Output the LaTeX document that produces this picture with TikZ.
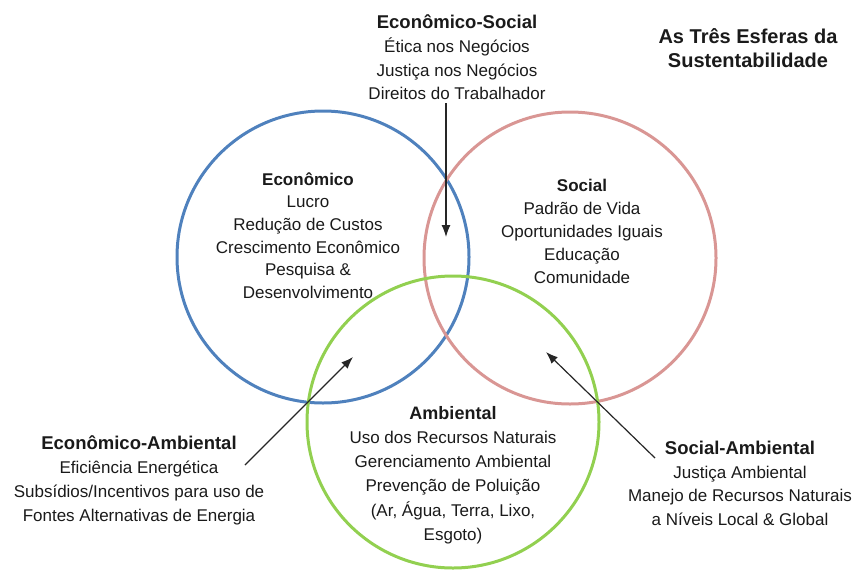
\documentclass[tikz,border=0pt]{standalone}
\usepackage{fontspec}
\setmainfont{Liberation Sans}
\usetikzlibrary{arrows.meta}
\definecolor{econblue}{HTML}{4F81BD}
\definecolor{socred}{HTML}{D99694}
\definecolor{envgreen}{HTML}{92D050}
\definecolor{inktext}{HTML}{1A1A1A}

\begin{document}
\begin{tikzpicture}[x=1pt,y=-1pt,
  sphere/.style={line width=3pt},
  txt/.style={align=center, inner sep=0pt, text=inktext,
              font=\fontsize{17}{23.5}\selectfont},
  pointer/.style={line width=1.2pt, draw=black!85,
                  -{Latex[length=12pt,width=9pt]}}]
\useasboundingbox (0,0) rectangle (856,571);

% the three spheres
\draw[sphere, econblue] (323,257) circle[radius=146];
\draw[sphere, socred]   (570,258) circle[radius=146];
\draw[sphere, envgreen] (453,422) circle[radius=146];

% title
\node[txt, font=\bfseries\fontsize{20}{24}\selectfont] (title) at (748,48)
  {As Três Esferas da\\Sustentabilidade};

% sphere contents
\node[txt, font=\fontsize{17}{22.6}\selectfont] (econ) at (308,235.5)
  {\textbf{Econômico}\\Lucro\\Redução de Custos\\Crescimento Econômico\\Pesquisa \&\\Desenvolvimento};
\node[txt, font=\fontsize{17}{23}\selectfont] (soc) at (582,231.5)
  {\textbf{Social}\\Padrão de Vida\\Oportunidades Iguais\\Educação\\Comunidade};
\node[txt, font=\fontsize{17}{24.2}\selectfont] (amb) at (453,475)
  {{\bfseries\fontsize{18}{24.2}\selectfont Ambiental}\\Uso dos Recursos Naturais\\Gerenciamento Ambiental\\Prevenção de Poluição\\(Ar, Água, Terra, Lixo,\\Esgoto)};

% overlap labels
\node[txt, font=\fontsize{17}{23.7}\selectfont] (es) at (457,57.5)
  {{\bfseries\fontsize{18.5}{23.7}\selectfont Econômico-Social}\\Ética nos Negócios\\Justiça nos Negócios\\Direitos do Trabalhador};
\node[txt, font=\fontsize{17}{24}\selectfont] (ea) at (139,480)
  {{\bfseries\fontsize{18.5}{24}\selectfont Econômico-Ambiental}\\Eficiência Energética\\Subsídios/Incentivos para uso de\\Fontes Alternativas de Energia};
\node[txt, font=\fontsize{17}{23.7}\selectfont] (sa) at (740,483.5)
  {{\bfseries\fontsize{18.5}{23.7}\selectfont Social-Ambiental}\\Justiça Ambiental\\Manejo de Recursos Naturais\\a Níveis Local \& Global};

% pointers into the overlaps
\coordinate (esTail) at (446,103);
\coordinate (esTip)  at (446,237);
\coordinate (eaTail) at (245,465);
\coordinate (eaTip)  at (353,357);
\coordinate (saTail) at (655,458);
\coordinate (saTip)  at (546,352);
\draw[pointer] (esTail) -- (esTip);
\draw[pointer] (eaTail) -- (eaTip);
\draw[pointer] (saTail) -- (saTip);
\end{tikzpicture}
\end{document}
